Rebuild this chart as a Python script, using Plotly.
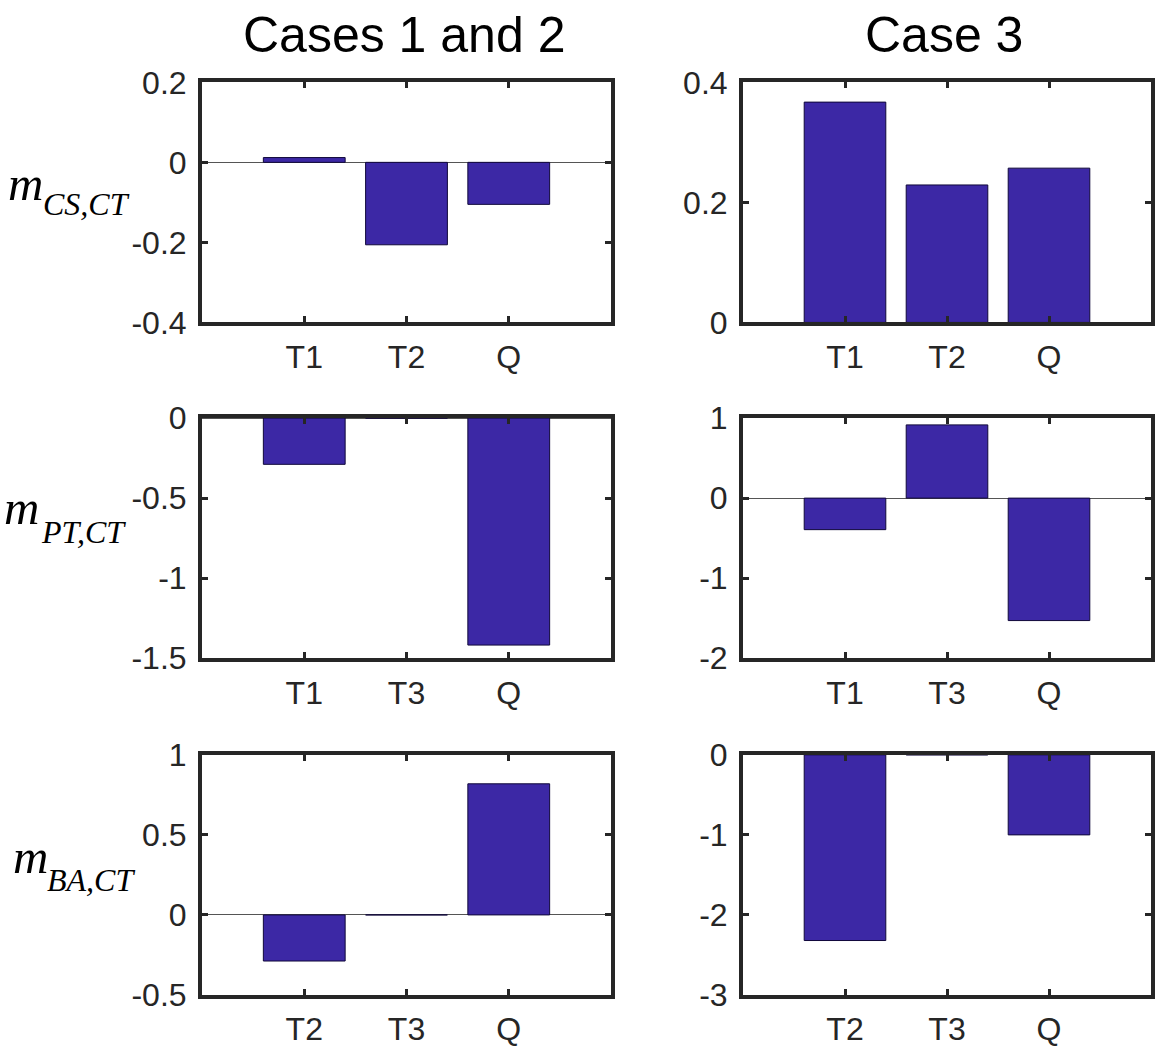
import plotly.graph_objects as go

# categories for each row
cats_r1 = ['T1', 'T2', 'Q']
cats_r2 = ['T1', 'T3', 'Q']
cats_r3 = ['T2', 'T3', 'Q']

# Cases 1 and 2 (left column)
left_r1 = [0.012, -0.206, -0.105]
left_r2 = [-0.289, 0.0, -1.418]
left_r3 = [-0.288, 0.0, 0.819]

# Case 3 (right column)
right_r1 = [0.367, 0.229, 0.257]
right_r2 = [-0.394, 0.915, -1.53]
right_r3 = [-2.32, 0.0, -1.0]

# y ranges / ticks
yr = [[-0.4, 0.2], [0, 0.4], [-1.5, 0], [-2, 1], [-0.5, 1], [-3, 0]]
ytv = [[-0.4, -0.2, 0, 0.2], [0, 0.2, 0.4], [-1.5, -1, -0.5, 0],
       [-2, -1, 0, 1], [-0.5, 0, 0.5, 1], [-3, -2, -1, 0]]
ytt = [['-0.4', '-0.2', '0', '0.2'], ['0', '0.2', '0.4'], ['-1.5', '-1', '-0.5', '0'],
       ['-2', '-1', '0', '1'], ['-0.5', '0', '0.5', '1'], ['-3', '-2', '-1', '0']]

col_titles = ['Cases 1 and 2', 'Case 3']
row_subs = ['CS,CT', 'PT,CT', 'BA,CT']

W, H = 1166, 1054


def ypx(y):
    # pixel row in the picture -> paper fraction (small correction for the page capture)
    return 1 - ((y - 15.45) / 0.9694) / H


xdom = [[202 / W, 611 / W], [743 / W, 1151 / W]]
rows_px = [(80, 321), (417, 658), (755, 996)]
ydom = [[ypx(b), ypx(t)] for t, b in rows_px]

BAR = '#3c28a5'
AX = '#262626'
SANS = 'Liberation Sans, Arial'
SERIF = 'Liberation Serif, Times New Roman'

series = [(cats_r1, left_r1), (cats_r1, right_r1),
          (cats_r2, left_r2), (cats_r2, right_r2),
          (cats_r3, left_r3), (cats_r3, right_r3)]

fig = go.Figure()
for i, (c, v) in enumerate(series):
    n = '' if i == 0 else str(i + 1)
    fig.add_trace(go.Bar(x=c, y=v, width=0.8, xaxis='x' + n, yaxis='y' + n,
                         marker=dict(color=BAR, line=dict(color='#10083a', width=1)),
                         showlegend=False))
    r, col = divmod(i, 2)
    common = dict(showline=True, mirror='ticks', linewidth=4, linecolor=AX,
                  ticks='inside', ticklen=6, tickwidth=3, tickcolor=AX,
                  showgrid=False, tickfont=dict(family=SANS, size=32, color=AX))
    fig.layout['xaxis' + n] = dict(common, domain=xdom[col], anchor='y' + n,
                                   type='category', range=[-1, 3], zeroline=False,
                                   ticklabelstandoff=3)
    fig.layout['yaxis' + n] = dict(common, domain=ydom[r], anchor='x' + n,
                                   range=yr[i], tickvals=ytv[i], ticktext=ytt[i],
                                   zeroline=True, zerolinecolor='#555555', zerolinewidth=1,
                                   ticklabelstandoff=5)

ann = []
title_x = [404, 944]
for k, t in enumerate(col_titles):
    ann.append(dict(text=t, x=title_x[k] / W, y=ypx(33),
                    xref='paper', yref='paper', showarrow=False, xanchor='center', yanchor='middle',
                    font=dict(family=SANS, size=50, color='black')))

# row labels: "m" and its subscript placed separately (left x, centre y in px)
m_pos = [(6, 182), (2, 507), (11, 857)]
sub_pos = [(41, 202), (39, 531), (45, 881)]
for k, t in enumerate(row_subs):
    ann.append(dict(text='<i>m</i>', x=m_pos[k][0] / W, y=ypx(m_pos[k][1]),
                    xref='paper', yref='paper', showarrow=False, xanchor='left', yanchor='middle',
                    font=dict(family=SERIF, size=49, color='black')))
    ann.append(dict(text='<i>' + t + '</i>', x=sub_pos[k][0] / W, y=ypx(sub_pos[k][1]),
                    xref='paper', yref='paper', showarrow=False, xanchor='left', yanchor='middle',
                    font=dict(family=SERIF, size=32, color='black')))

fig.update_layout(width=W, height=H, margin=dict(l=0, r=0, t=0, b=0),
                  plot_bgcolor='white', paper_bgcolor='white', annotations=ann)

fig.write_html("out.html", config={'displayModeBar': False},
               post_script="document.body.style.margin='0';")
